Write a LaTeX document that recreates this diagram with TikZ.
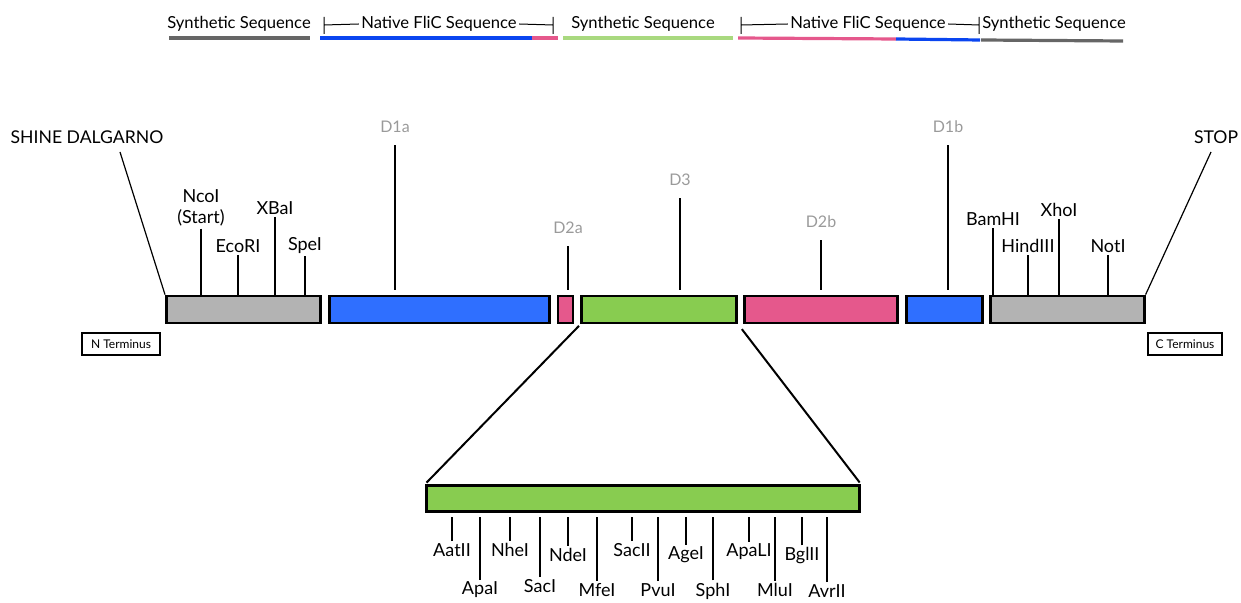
\documentclass[tikz,border=0pt]{standalone}
\usepackage{fontspec}
\setmainfont{Lato}
\usetikzlibrary{positioning}
\definecolor{segGray}{HTML}{B3B3B3}
\definecolor{segBlue}{HTML}{2F6FFF}
\definecolor{segPink}{HTML}{E5588C}
\definecolor{segGreen}{HTML}{88CC50}
\definecolor{legGray}{HTML}{666666}
\definecolor{legBlue}{HTML}{0A45F0}
\definecolor{legPink}{HTML}{E5588C}
\definecolor{legGreen}{HTML}{A9D97F}
\definecolor{domText}{HTML}{9A9A9A}

\begin{document}
\begin{tikzpicture}[x=0.5pt, y=-0.5pt, node distance=3pt]
  \tikzset{
    seg/.style={draw=black, line width=1.4pt, minimum height=13.5pt, inner sep=0pt},
    site/.style={font=\fontsize{9}{10.5}\selectfont, inner sep=1pt, align=center},
    dom/.style={font=\fontsize{8}{9}\selectfont, text=domText, inner sep=1pt},
    tick/.style={line width=0.6pt},
    domtick/.style={line width=0.6pt, shorten <=5pt, shorten >=2.5pt},
    leg/.style={font=\fontsize{8.3}{10}\selectfont, inner sep=1pt},
    legline/.style={line width=1.6pt},
    brack/.style={line width=0.5pt},
    zoomline/.style={line width=1pt},
    term/.style={draw, line width=0.6pt, font=\fontsize{6}{7}\selectfont, minimum height=11pt, inner sep=1pt}
  }
  \useasboundingbox (0,0) rectangle (1241,603);

  % legend
  \node[leg] (synleg1) at (239,24) {Synthetic Sequence};
  \draw[legline, legGray] (169,38) -- (310,38);
  \node[leg] (natleg1) at (439,24) {Native FliC Sequence};
  \coordinate (nat1l) at (324,25);
  \coordinate (nat1r) at (553,25);
  \draw[brack] (natleg1.west) -- (nat1l) ++(0,-8) -- ++(0,17);
  \draw[brack] (natleg1.east) -- (nat1r) ++(0,-8) -- ++(0,17);
  \draw[legline, legBlue] (320,38) -- (532,38);
  \draw[legline, legPink] (532,38) -- (558,38);
  \node[leg] (synleg2) at (643,24) {Synthetic Sequence};
  \draw[legline, legGreen] (563,38) -- (733,38);
  \node[leg] (natleg2) at (868,24) {Native FliC Sequence};
  \coordinate (nat2l) at (741,25);
  \coordinate (nat2r) at (979,25);
  \draw[brack] (natleg2.west) -- (nat2l) ++(0,-8) -- ++(0,17);
  \draw[brack] (natleg2.east) -- (nat2r) ++(0,-8) -- ++(0,17);
  \draw[legline, legPink] (738,38) -- (896,39);
  \draw[legline, legBlue] (896,39) -- (980,40);
  \node[leg] (synleg3) at (1054,24) {Synthetic Sequence};
  \draw[legline, legGray] (981,40) -- (1123,41);

  % construct
  \node[seg, fill=segGray, minimum width=77pt, anchor=west] (syn1) at (165,309.5) {};
  \node[seg, fill=segBlue, minimum width=110pt, right=of syn1] (d1a) {};
  \node[seg, fill=segPink, minimum width=7.5pt, right=of d1a] (d2a) {};
  \node[seg, fill=segGreen, minimum width=77.5pt, right=of d2a] (d3) {};
  \node[seg, fill=segPink, minimum width=76.5pt, right=2.5pt of d3] (d2b) {};
  \node[seg, fill=segBlue, minimum width=38pt, right=of d2b] (d1b) {};
  \node[seg, fill=segGray, minimum width=77pt, right=2.5pt of d1b] (syn2) {};

  \node[term, minimum width=39pt] (nterm) at (121,344) {N Terminus};
  \node[term, minimum width=37pt] (cterm) at (1185,344) {C Terminus};

  \node[site, font=\fontsize{8.8}{10}\selectfont] (shine) at (87,137) {SHINE DALGARNO};
  \coordinate (shinefoot) at (120,152);
  \draw[tick] (shinefoot) -- (syn1.north west);
  \node[site, font=\fontsize{8.8}{10}\selectfont] (stop) at (1216,137) {STOP};
  \coordinate (stopfoot) at (1211,152);
  \draw[tick] (stopfoot) -- (syn2.north east);

  % domains
  \node[dom] (d1alab) at (395,127) {D1a};
  \node[dom] (d2alab) at (568,228) {D2a};
  \node[dom] (d3lab) at (680,180) {D3};
  \node[dom] (d2blab) at (821,222) {D2b};
  \node[dom] (d1blab) at (948,127) {D1b};
  \draw[domtick] (d1alab.south) -- (d1alab.south |- d1a.north);
  \draw[domtick] (d2alab.south) -- (d2alab.south |- d2a.north);
  \draw[domtick] (d3lab.south) -- (d3lab.south |- d3.north);
  \draw[domtick] (d2blab.south) -- (d2blab.south |- d2b.north);
  \draw[domtick] (d1blab.south) -- (d1blab.south |- d1b.north);

  % sites, N side
  \node[site] (ncoi) at (201,208) {NcoI\\(Start)};
  \node[site] (ecori) at (238,246) {EcoRI};
  \node[site] (xbai) at (275,208) {XBaI};
  \node[site] (spei) at (305,246) {SpeI};
  \draw[tick] (ncoi.south) -- (ncoi.south |- syn1.north);
  \draw[tick] (ecori.south) -- (ecori.south |- syn1.north);
  \draw[tick] (xbai.south) -- (xbai.south |- syn1.north);
  \draw[tick] (spei.south) -- (spei.south |- syn1.north);

  % sites, C side
  \node[site] (bamhi) at (993,219) {BamHI};
  \node[site] (hindiii) at (1028,246) {HindIII};
  \node[site] (xhoi) at (1059,210) {XhoI};
  \node[site] (noti) at (1108,246) {NotI};
  \draw[tick] (bamhi.south) -- (bamhi.south |- syn2.north);
  \draw[tick] (hindiii.south) -- (hindiii.south |- syn2.north);
  \draw[tick] (xhoi.south) -- (xhoi.south |- syn2.north);
  \draw[tick] (noti.south) -- (noti.south |- syn2.north);

  % D3 blown up
  \node[seg, fill=segGreen, minimum width=216.5pt, minimum height=13pt] (d3zoom) at (643,498.5) {};
  \draw[zoomline, shorten <=1pt, shorten >=1pt] (d3.south west) -- (d3zoom.north west);
  \draw[zoomline, shorten <=3pt, shorten >=1pt] (d3.south east) -- (d3zoom.north east);

  \node[site] (aatii) at (452,550) {AatII};
  \node[site] (apai) at (480,590) {ApaI};
  \node[site] (nhei) at (510,550) {NheI};
  \node[site] (saci) at (540,586) {SacI};
  \node[site] (ndei) at (568,555) {NdeI};
  \node[site] (mfei) at (597,590) {MfeI};
  \node[site] (sacii) at (632,550) {SacII};
  \node[site] (pvui) at (658,590) {PvuI};
  \node[site] (agei) at (686,555) {AgeI};
  \node[site] (sphi) at (713,591) {SphI};
  \node[site] (apali) at (749,552) {ApaLI};
  \node[site] (mlui) at (775,590) {MluI};
  \node[site] (bglii) at (802,556) {BglII};
  \node[site] (avrii) at (827,591) {AvrII};
  \foreach \s in {aatii, apai, nhei, saci, ndei, mfei, sacii, pvui, agei, sphi, apali, mlui, bglii, avrii}
    \draw[tick, shorten >=2pt] (\s.north) -- (\s.north |- d3zoom.south);
\end{tikzpicture}
\end{document}
